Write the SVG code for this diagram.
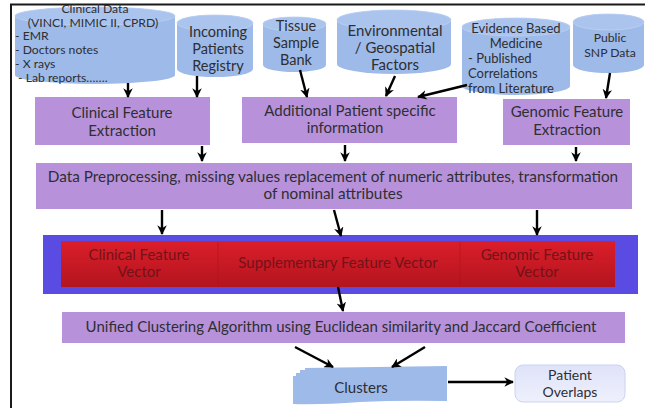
<svg xmlns="http://www.w3.org/2000/svg" width="645" height="408" viewBox="0 0 645 408">
<style>
text{font-family:Lato,"Liberation Sans",sans-serif;fill:#2e2e33}
.c{text-anchor:middle}
.cyl{fill:#9dbae8}
.cyltop{fill:#aac4ee;stroke:#bcd0f2;stroke-width:0.8}
.box{fill:#b792da}
.t12{font-size:12.2px}
.t13{font-size:13px}
.t14{font-size:14.5px}
.t15{font-size:15px}
.red{fill:#741218;font-size:15px;text-anchor:middle}
.arr{stroke:#000;stroke-width:2.4;fill:none;marker-end:url(#ah)}
</style>
<defs>
<marker id="ah" viewBox="0 0 10 10" refX="9" refY="5" markerWidth="4" markerHeight="4" orient="auto" markerUnits="strokeWidth">
<path d="M0,0 L10,5 L0,10 L3,5 Z" fill="#000"/>
</marker>
<linearGradient id="rg" x1="0" y1="0" x2="0" y2="1">
<stop offset="0" stop-color="#db1e2a"/>
<stop offset="1" stop-color="#b3151f"/>
</linearGradient>
<linearGradient id="pg" x1="0" y1="0" x2="0" y2="1">
<stop offset="0" stop-color="#dfe3f9"/>
<stop offset="1" stop-color="#eef0fc"/>
</linearGradient>
</defs>
<rect width="645" height="408" fill="#fff"/>
<path d="M11,408 V4.5 H645" fill="none" stroke="#1a1a1a" stroke-width="2"/>

<g id="clinical-data">
<path class="cyl" d="M15,16 V75 A80,9 0 0 0 175,75 V16 A80,9 0 0 0 15,16 Z"/>
<ellipse class="cyltop" cx="95" cy="16" rx="80" ry="9"/>
<text class="t12 c" x="95" y="13">Clinical Data</text>
<text class="t12 c" x="93" y="27">(VINCI, MIMIC II, CPRD)</text>
<text class="t12" x="15" y="40">- EMR</text>
<text class="t12" x="15" y="54">- Doctors notes</text>
<text class="t12" x="15" y="68">- X rays</text>
<text class="t12" x="18" y="82">- Lab reports…….</text>
</g>

<g id="incoming">
<path class="cyl" d="M177,23 V69 A38,8 0 0 0 253,69 V23 A38,8 0 0 0 177,23 Z"/>
<ellipse class="cyltop" cx="215" cy="23" rx="38" ry="8"/>
<text class="t14 c" x="218" y="37">Incoming</text>
<text class="t14 c" x="218" y="54">Patients</text>
<text class="t14 c" x="218" y="71">Registry</text>
</g>

<g id="tissue">
<path class="cyl" d="M263,24 V65 A31.5,7 0 0 0 326,65 V24 A31.5,7 0 0 0 263,24 Z"/>
<ellipse class="cyltop" cx="294.5" cy="24" rx="31.5" ry="7"/>
<text class="t14 c" x="296" y="31">Tissue</text>
<text class="t14 c" x="296" y="48">Sample</text>
<text class="t14 c" x="296" y="65">Bank</text>
</g>

<g id="environmental">
<path class="cyl" d="M337,20 V64 A57,10 0 0 0 451,64 V20 A57,10 0 0 0 337,20 Z"/>
<ellipse class="cyltop" cx="394" cy="20" rx="57" ry="10"/>
<text class="t15 c" x="395" y="36">Environmental</text>
<text class="t15 c" x="395" y="53">/ Geospatial</text>
<text class="t15 c" x="395" y="70">Factors</text>
</g>

<g id="evidence">
<path class="cyl" d="M462,27 V86 A54,9 0 0 0 570,86 V27 A54,9 0 0 0 462,27 Z"/>
<ellipse class="cyltop" cx="516" cy="27" rx="54" ry="9"/>
<text class="t13 c" x="516" y="33">Evidence Based</text>
<text class="t13 c" x="516" y="48">Medicine</text>
<text class="t13" x="468" y="63">- Published</text>
<text class="t13" x="468" y="78">Correlations</text>
<text class="t13" x="468" y="93">from Literature</text>
</g>

<g id="public-snp">
<path class="cyl" d="M573,22 V65 A35.5,8 0 0 0 644,65 V22 A35.5,8 0 0 0 573,22 Z"/>
<ellipse class="cyltop" cx="608.5" cy="22" rx="35.5" ry="8"/>
<text class="t12 c" x="610" y="42">Public</text>
<text class="t12 c" x="610" y="57">SNP Data</text>
</g>

<g id="clinical-feature-extraction">
<rect class="box" x="35" y="97" width="175" height="48"/>
<text class="t15 c" x="122" y="118">Clinical Feature</text>
<text class="t15 c" x="122" y="136">Extraction</text>
</g>

<g id="additional-info">
<rect class="box" x="242" y="97" width="215" height="46"/>
<text class="t15 c" x="350" y="116">Additional Patient specific</text>
<text class="t15 c" x="345" y="133">information</text>
</g>

<g id="genomic-feature-extraction">
<rect class="box" x="503" y="99" width="127" height="46"/>
<text class="t15 c" x="567" y="117">Genomic Feature</text>
<text class="t15 c" x="567" y="135">Extraction</text>
</g>

<g id="data-preprocessing">
<rect class="box" x="36" y="163" width="596" height="46" fill="#bb97dd"/>
<text class="c" style="font-size:15.3px" x="333" y="182">Data Preprocessing, missing values replacement of numeric attributes, transformation</text>
<text class="c" style="font-size:15.3px" x="333" y="199">of nominal attributes</text>
</g>

<g id="feature-vectors">
<rect x="43" y="235" width="595" height="59" fill="#5a4ce2"/>
<rect x="61" y="241" width="554" height="46" fill="url(#rg)"/>
<line x1="218" y1="242" x2="218" y2="286" stroke="#a5141c" stroke-width="1" opacity="0.5"/>
<line x1="460" y1="242" x2="460" y2="286" stroke="#a5141c" stroke-width="1" opacity="0.5"/>
<text class="red" x="139" y="260">Clinical Feature</text>
<text class="red" x="139" y="277">Vector</text>
<text class="red" x="338" y="268">Supplementary Feature Vector</text>
<text class="red" x="537" y="260">Genomic Feature</text>
<text class="red" x="537" y="277">Vector</text>
</g>

<g id="unified-clustering">
<rect class="box" x="62" y="312" width="563" height="31"/>
<text class="t15 c" x="341" y="332">Unified Clustering Algorithm using Euclidean similarity and Jaccard Coefficient</text>
</g>

<g id="clusters">
<path class="cyl" d="M293,376 L296,376 L296,373 L300,373 L300,370 L305,370 L305,368 L447,366 L447,401 Q400,400 360,402 Q320,405 293,404 Z"/>
<text class="t15 c" x="361" y="393">Clusters</text>
</g>

<g id="patient-overlaps">
<rect x="515" y="365" width="110" height="37" rx="8" fill="url(#pg)" stroke="#cdd2f2" stroke-width="1"/>
<text class="c" style="font-size:14px" x="570" y="379.5">Patient</text>
<text class="c" style="font-size:14px" x="570" y="396.5">Overlaps</text>
</g>

<g id="connectors">
<line class="arr" x1="128" y1="83" x2="128" y2="97"/>
<line class="arr" x1="197" y1="76" x2="197" y2="97"/>
<line class="arr" x1="300" y1="70" x2="307" y2="97"/>
<line class="arr" x1="395" y1="76" x2="386" y2="96"/>
<line class="arr" x1="467" y1="85" x2="418" y2="97"/>
<line class="arr" x1="610" y1="73" x2="606" y2="98"/>
<line class="arr" x1="202" y1="146" x2="202" y2="161"/>
<line class="arr" x1="345" y1="145" x2="345" y2="161"/>
<line class="arr" x1="576" y1="147" x2="576" y2="161"/>
<line class="arr" x1="162" y1="210" x2="162" y2="234"/>
<line class="arr" x1="334" y1="210" x2="341" y2="236"/>
<line class="arr" x1="537" y1="210" x2="537" y2="235"/>
<line class="arr" x1="338" y1="287" x2="343" y2="311"/>
<line class="arr" x1="295" y1="347" x2="333" y2="367"/>
<line class="arr" x1="425" y1="347" x2="392" y2="367"/>
<line class="arr" x1="448" y1="382" x2="513" y2="382"/>
</g>
</svg>
